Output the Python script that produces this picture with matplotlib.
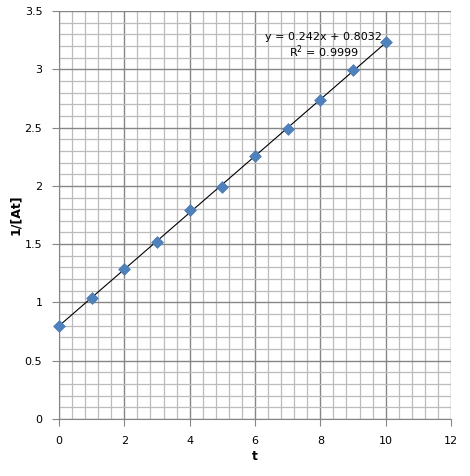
import numpy as np
import matplotlib.pyplot as plt
from matplotlib.ticker import MultipleLocator

t = [0, 1, 2, 3, 4, 5, 6, 7, 8, 9, 10]
inv_at = [0.80, 1.04, 1.29, 1.52, 1.79, 1.99, 2.26, 2.49, 2.74, 2.99, 3.23]

slope, intercept = np.polyfit(t, inv_at, 1)

fig = plt.figure(figsize=(4.70, 4.76), dpi=100)
ax = fig.add_axes([59 / 470, 1 - 419 / 476, 392 / 470, 408 / 476])

ax.set_xlim(0, 12)
ax.set_ylim(0, 3.5)
ax.xaxis.set_major_locator(MultipleLocator(2))
ax.xaxis.set_minor_locator(MultipleLocator(0.4))
ax.yaxis.set_major_locator(MultipleLocator(0.5))
ax.yaxis.set_minor_locator(MultipleLocator(0.1))

ax.grid(which='minor', color='#bcbcbc', linewidth=0.9)
ax.grid(which='major', color='#868686', linewidth=1.0)
ax.set_axisbelow(True)

for s in ['top', 'right']:
    ax.spines[s].set_visible(False)
for s in ['left', 'bottom']:
    ax.spines[s].set_color('#868686')

ax.tick_params(which='major', direction='out', length=5, color='#868686',
               labelsize=8, pad=7)
ax.tick_params(which='minor', length=0)
ax.xaxis.set_major_formatter(plt.FuncFormatter(lambda v, p: f'{v:g}'))
ax.yaxis.set_major_formatter(plt.FuncFormatter(lambda v, p: f'{v:g}'))

xs = np.array([min(t), max(t)])
ax.plot(xs, slope * xs + intercept, color='black', linewidth=0.8, zorder=3)
ax.scatter(t, inv_at, marker='D', s=36, color='#4f81bd', edgecolors='#4a7ab5',
           linewidths=0.5, zorder=4, clip_on=False)

ax.text(8.1, 3.275, 'y = 0.242x + 0.8032', ha='center', va='center', fontsize=8)
ax.text(8.1, 3.15, 'R$^2$ = 0.9999', ha='center', va='center', fontsize=8)

ax.set_xlabel('t', fontsize=9, fontweight='bold', labelpad=3)
ax.set_ylabel('1/[At]', fontsize=9, fontweight='bold', labelpad=2)

fig.savefig('out.png', dpi=100)
